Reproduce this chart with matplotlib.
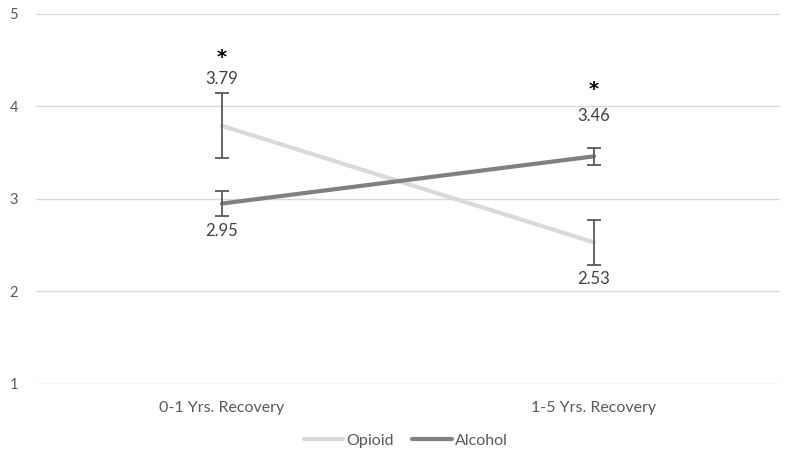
import matplotlib
matplotlib.use("Agg")
import matplotlib.pyplot as plt

# Data
categorias = ["0-1 Yrs. Recovery", "1-5 Yrs. Recovery"]
opioid = [3.79, 2.53]
opioid_err = [0.35, 0.24]
alcohol = [2.95, 3.46]
alcohol_err = [0.14, 0.09]
# star marks above the higher group
estrelas_y = [4.53, 4.18]

plt.rcParams['font.family'] = ['Lato', 'DejaVu Sans']

fig = plt.figure(figsize=(8, 4.62), dpi=100)
ax = fig.add_axes([0.045, 0.169, 0.93, 0.801])

x = [0.5, 1.5]
cor_txt = '#595959'

ax.plot(x, opioid, color='#d9d9d9', lw=3, label='Opioid', zorder=3, solid_capstyle='round')
ax.plot(x, alcohol, color='#808080', lw=3, label='Alcohol', zorder=3, solid_capstyle='round')
ax.errorbar(x, opioid, yerr=opioid_err, fmt='none', ecolor='#595959', elinewidth=1.3,
            capsize=5, capthick=1.3, zorder=4)
ax.errorbar(x, alcohol, yerr=alcohol_err, fmt='none', ecolor='#595959', elinewidth=1.3,
            capsize=5, capthick=1.3, zorder=4)

# value labels
ax.text(x[0], opioid[0] + opioid_err[0] + 0.07, f'{opioid[0]:.2f}', ha='center', va='bottom',
        fontsize=12, color='#404040')
ax.text(x[0], alcohol[0] - alcohol_err[0] - 0.07, f'{alcohol[0]:.2f}', ha='center', va='top',
        fontsize=12, color='#404040')
ax.text(x[1], alcohol[1] + 0.35, f'{alcohol[1]:.2f}', ha='center', va='bottom',
        fontsize=12, color='#404040')
ax.text(x[1], opioid[1] - opioid_err[1] - 0.07, f'{opioid[1]:.2f}', ha='center', va='top',
        fontsize=12, color='#404040')
for xi, yi in zip(x, estrelas_y):
    ax.text(xi, yi, '*', ha='center', va='center', fontsize=14, color='black', fontweight='bold',
            family='DejaVu Sans')

ax.set_xlim(0, 2)
ax.set_ylim(1, 5)
ax.set_yticks([1, 2, 3, 4, 5])
ax.set_xticks(x)
ax.set_xticklabels(categorias)
ax.grid(axis='y', color='#d9d9d9', lw=1)
ax.set_axisbelow(True)
for s in ax.spines.values():
    s.set_visible(False)
ax.tick_params(axis='both', length=0, colors=cor_txt)
ax.tick_params(axis='y', pad=13, labelsize=10.5)
ax.tick_params(axis='x', pad=12, labelsize=11.5)

fig.legend(loc='lower center', bbox_to_anchor=(0.507, 0.0), ncol=2, frameon=False,
           fontsize=11.5, labelcolor=cor_txt, handlelength=2.5, handletextpad=0.15,
           columnspacing=1.2)

fig.savefig('out.png', dpi=100)
